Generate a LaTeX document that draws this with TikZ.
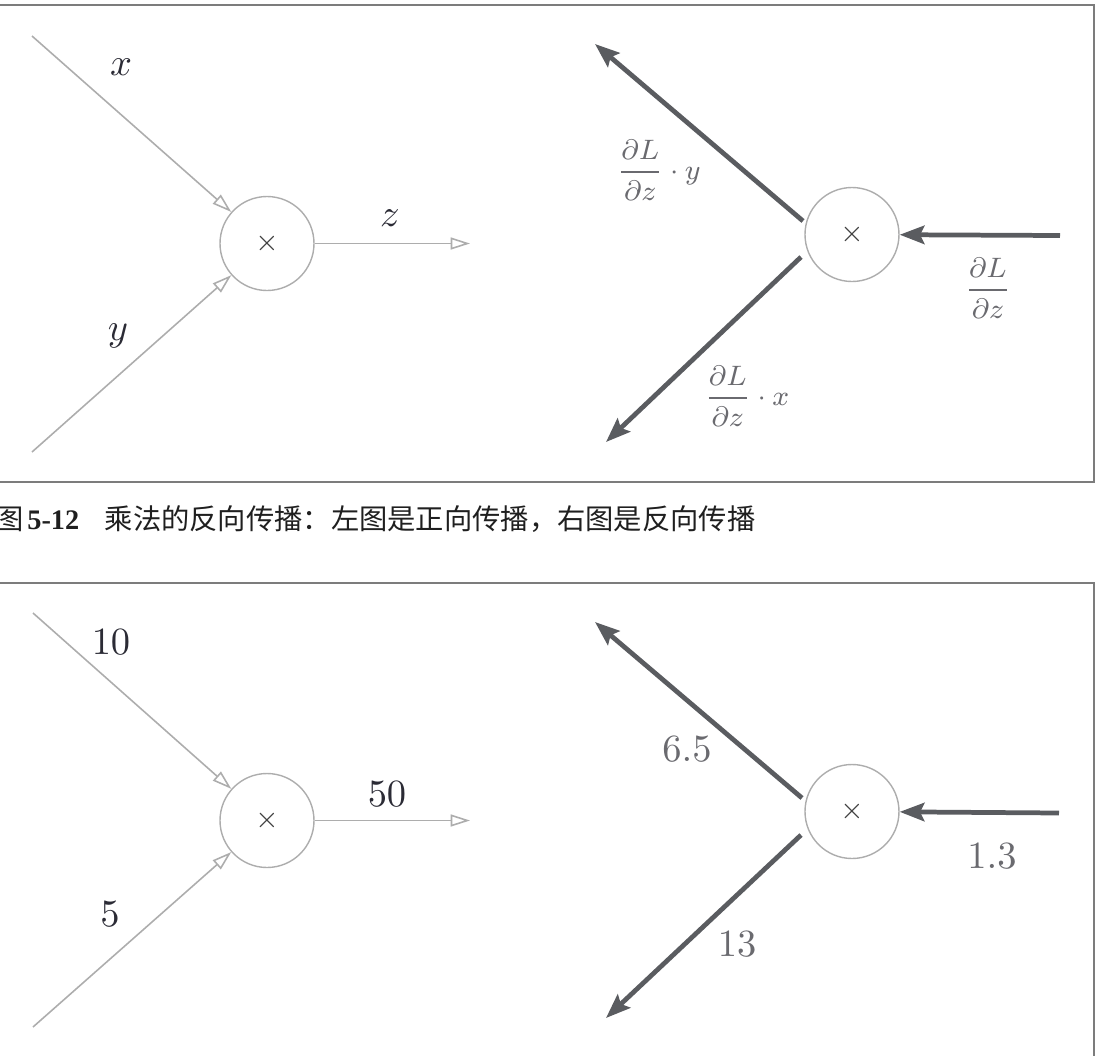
\documentclass[tikz,border=0pt]{standalone}
\usepackage{amsmath}
\usepackage{fontspec}
\newfontfamily\cjk{Noto Sans CJK SC}
\newfontfamily\capnum{Liberation Serif}
\usetikzlibrary{arrows.meta}
\definecolor{fwdline}{HTML}{ADADAD}
\definecolor{bwdline}{HTML}{5A5C60}
\definecolor{fwdtext}{HTML}{2B2B35}
\definecolor{bwdtext}{HTML}{6A6A6F}
\definecolor{framegray}{HTML}{7C7C7C}

\begin{document}
\begin{tikzpicture}[
    mulnode/.style={circle, draw=fwdline, line width=0.4pt, minimum size=0.94cm, inner sep=0pt,
        font=\fontsize{8}{8}\selectfont, text=black!75},
    fwd/.style={draw=fwdline, line width=0.45pt, -{Triangle[open, length=5.5pt, width=3.4pt]}},
    bwd/.style={draw=bwdline, line width=1.35pt, -{Stealth[length=7pt, width=5.2pt, inset=1.2pt]}},
    fwdlabel/.style={text=fwdtext, font=\fontsize{11}{13}\selectfont, inner sep=0pt},
    bwdlabel/.style={text=bwdtext, font=\fontsize{11}{13}\selectfont, inner sep=0pt},
    gradlabel/.style={text=bwdtext, font=\fontsize{8.5}{10}\selectfont, inner sep=0pt},
    panel/.style={draw=framegray, line width=0.6pt}
]
                            % Panels, nodes and arrows:
                            \useasboundingbox (0,0) rectangle (10.96,-10.56);
                            \draw[panel] (0,-0.05) -- (10.94,-0.05) -- (10.94,-4.82) -- (0,-4.82);
                            \draw[panel] (0,-5.83) -- (10.94,-5.83) -- (10.94,-10.60);

                            % forward, symbols
                            \node[mulnode] (mulA) at (2.67,-2.435) {$\times$};
                            \coordinate (xinA) at (0.32,-0.36);
                            \coordinate (yinA) at (0.32,-4.52);
                            \coordinate (zoutA) at (4.70,-2.435);
                            \draw[fwd] (xinA) -- (mulA);
                            \draw[fwd] (yinA) -- (mulA);
                            \draw[fwd] (mulA) -- (zoutA);
                            \node[fwdlabel] (xlabA) at (1.21,-0.67) {$x$};
                            \node[fwdlabel] (ylabA) at (1.18,-3.36) {$y$};
                            \node[fwdlabel] (zlabA) at (3.90,-2.18) {$z$};

                            % backward, symbols
                            \node[mulnode] (mulB) at (8.52,-2.345) {$\times$};
                            \coordinate (ginB) at (10.60,-2.355);
                            \coordinate (gyB) at (8.03,-2.21);
                            \coordinate (gyoutB) at (5.95,-0.44);
                            \coordinate (gxB) at (8.01,-2.57);
                            \coordinate (gxoutB) at (6.06,-4.42);
                            \draw[bwd] (ginB) -- (mulB);
                            \draw[bwd] (gyB) -- (gyoutB);
                            \draw[bwd] (gxB) -- (gxoutB);
                            \node[gradlabel] (gylabB) at (6.59,-1.70) {$\dfrac{\partial L}{\partial z}\cdot y$};
                            \node[gradlabel] (gzlabB) at (9.88,-2.88) {$\dfrac{\partial L}{\partial z}$};
                            \node[gradlabel] (gxlabB) at (7.47,-3.96) {$\dfrac{\partial L}{\partial z}\cdot x$};

                            % caption
                            \node[anchor=west, inner sep=0pt, text=black!88, font=\fontsize{8.05}{10}\selectfont] (capA) at (-0.05,-5.19)
                                {{\cjk 图}\hspace{0.12em}{\capnum\bfseries 5-12}{\cjk\hspace{0.9em}乘法的反向传播：左图是正向传播，右图是反向传播}};

                            % forward, values
                            \node[mulnode] (mulC) at (2.67,-8.205) {$\times$};
                            \coordinate (xinC) at (0.33,-6.13);
                            \coordinate (yinC) at (0.33,-10.27);
                            \coordinate (zoutC) at (4.70,-8.205);
                            \draw[fwd] (xinC) -- (mulC);
                            \draw[fwd] (yinC) -- (mulC);
                            \draw[fwd] (mulC) -- (zoutC);
                            \node[fwdlabel] (xlabC) at (1.11,-6.42) {$10$};
                            \node[fwdlabel] (ylabC) at (1.10,-9.14) {$5$};
                            \node[fwdlabel] (zlabC) at (3.87,-7.94) {$50$};

                            % backward, values
                            \node[mulnode] (mulD) at (8.52,-8.115) {$\times$};
                            \coordinate (ginD) at (10.59,-8.13);
                            \coordinate (gyD) at (8.02,-7.98);
                            \coordinate (gyoutD) at (5.95,-6.22);
                            \coordinate (gxD) at (8.01,-8.35);
                            \coordinate (gxoutD) at (6.06,-10.18);
                            \draw[bwd] (ginD) -- (mulD);
                            \draw[bwd] (gyD) -- (gyoutD);
                            \draw[bwd] (gxD) -- (gxoutD);
                            \node[bwdlabel] (gylabD) at (6.87,-7.49) {$6.5$};
                            \node[bwdlabel] (gzlabD) at (9.92,-8.56) {$1.3$};
                            \node[bwdlabel] (gxlabD) at (7.37,-9.44) {$13$};
                        \end{tikzpicture}
\end{document}
